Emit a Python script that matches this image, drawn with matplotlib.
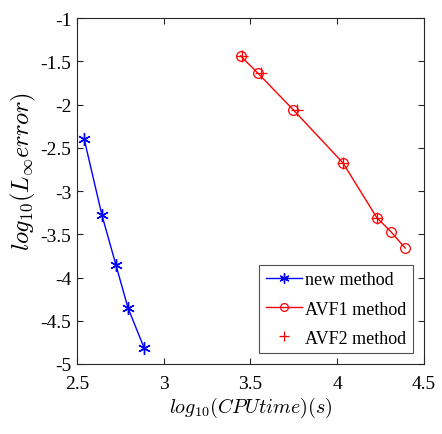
import matplotlib
matplotlib.use('Agg')
import matplotlib.pyplot as plt

plt.rcParams['font.family'] = 'Liberation Serif'
plt.rcParams['mathtext.fontset'] = 'cm'

# data
new_x = [2.542, 2.644, 2.725, 2.794, 2.888]
new_y = [-2.399, -3.277, -3.855, -4.349, -4.818]

avf1_x = [3.443, 3.541, 3.747, 4.033, 4.229, 4.310, 4.392]
avf1_y = [-1.436, -1.632, -2.060, -2.673, -3.309, -3.470, -3.659]

avf2_x = [3.449, 3.559, 3.770, 4.033, 4.229]
avf2_y = [-1.436, -1.632, -2.060, -2.673, -3.309]

xticks = [2.5, 3, 3.5, 4, 4.5]
yticks = [-5, -4.5, -4, -3.5, -3, -2.5, -2, -1.5, -1]

fig = plt.figure(figsize=(4.42, 4.35), dpi=100)
ax = fig.add_axes([0.174, 0.161, 0.785, 0.795])

ax.plot(new_x, new_y, '-', marker=(6, 2, 0), color='blue', lw=1, ms=9, mew=1, label='new method')
ax.plot(avf1_x, avf1_y, '-o', color='red', lw=1, ms=7, mfc='none', mew=0.9, label='AVF1 method')
ax.plot(avf2_x, avf2_y, '+', color='red', ms=9, mew=0.9, label='AVF2 method')

ax.set_xlim(2.5, 4.5)
ax.set_ylim(-5, -1)
ax.set_xticks(xticks)
ax.set_xticklabels(['2.5', '3', '3.5', '4', '4.5'])
ax.set_yticks(yticks)
ax.set_yticklabels(['-5', '-4.5', '-4', '-3.5', '-3', '-2.5', '-2', '-1.5', '-1'])
ax.tick_params(direction='in', top=True, right=True, labelsize=14, length=4, width=0.8, colors='#262626', labelcolor='black')
ax.tick_params(axis='x', pad=8)
ax.tick_params(axis='y', pad=4)
for s in ax.spines.values():
    s.set_color('#262626')
    s.set_linewidth(0.8)

ax.set_xlabel(r'$log_{10}(CPUtime)(s)$', fontsize=14.5, labelpad=2)
ax.set_ylabel(r'$log_{10}(L_\infty error)$', fontsize=17.5)
ax.yaxis.set_label_coords(-0.112, 0.56)

leg = ax.legend(loc='lower right', fontsize=13, fancybox=False, edgecolor='#262626',
                handlelength=2.0, handletextpad=0.2, borderpad=0.35, labelspacing=0.68,
                borderaxespad=0.6, markerscale=0.8)
leg.get_frame().set_linewidth(0.8)

fig.savefig('out.png', dpi=100)
